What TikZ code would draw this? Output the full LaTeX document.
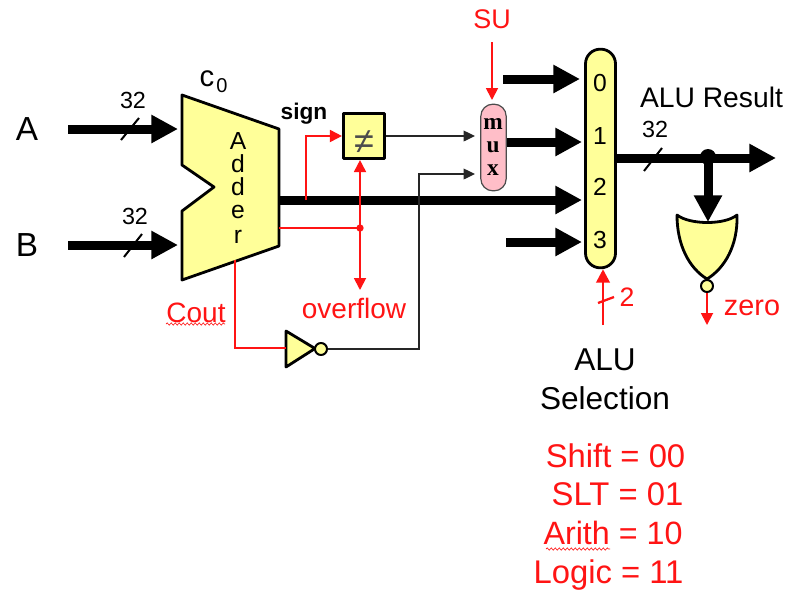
\documentclass[tikz,border=0pt]{standalone}
\usepackage{fontspec}
\setmainfont{Liberation Sans}
\newfontfamily\muxfont[Scale=1]{Liberation Serif}
\usetikzlibrary{arrows.meta,decorations.pathmorphing}
\newcommand{\fsz}[1]{\fontsize{#1}{#1}\selectfont}
\definecolor{gateyellow}{RGB}{255,255,153}
\definecolor{muxpink}{RGB}{255,190,200}
\definecolor{sigred}{RGB}{255,20,20}
\tikzset{
  bus/.style={line width=6.75pt,-{Triangle[length=20pt,width=20pt]}},
  tick/.style={line width=1.5pt},
  wire/.style={line width=1pt,black!85,-{Triangle[length=8.5pt,width=8pt]}},
  redwire/.style={line width=1.35pt,sigred},
  redarrow/.style={redwire,-{Triangle[length=9pt,width=9pt]}},
  redboth/.style={redwire,{Triangle[length=9pt,width=9pt]}-{Triangle[length=9pt,width=9pt]}},
  gate/.style={draw=black,line width=2.1pt,fill=gateyellow,line join=round},
  lab/.style={inner sep=0pt,text=black},
  redlab/.style={inner sep=0pt,text=sigred},
  squiggle/.style={sigred,line width=.5pt,decorate,decoration={snake,amplitude=.8pt,segment length=3pt}},
}
\begin{document}
\begin{tikzpicture}[x=.75pt,y=-.75pt]
\useasboundingbox[fill=white] (0,0) rectangle (788,590);
% free ends
\coordinate (Ain) at (68,129);
\coordinate (Ato) at (178,129);
\coordinate (Bin) at (68,245);
\coordinate (Bto) at (178,245);
\coordinate (sum) at (279,200);
\coordinate (ovf) at (279,228);
\coordinate (sgn) at (306,200);
\coordinate (cout) at (235,260);
\coordinate (in0) at (503,79);
\coordinate (in3) at (506,242);
\coordinate (suin) at (492,42);
\coordinate (ovfout) at (360,290);
\coordinate (selin) at (603,325);
\coordinate (resout) at (776,158);
\coordinate (zerout) at (707,325);
\coordinate (norin) at (708,222);
\coordinate (invin) at (286,348);
% blocks
\draw[gate] (182,95) -- (279,129) -- (279,246) -- (182,280) -- (182,211) -- (214,187) -- (182,165) -- cycle;
\node[lab,align=center,font=\fsz{18.5},text width=20pt] (adder) at (238,188) {\centering\baselineskip=17.4pt A\\d\\d\\e\\r};
\node[gate,inner sep=0pt,minimum width=31pt,minimum height=34pt,text height=0pt,text depth=0pt] (ne) at (364,136) {};
\node[lab,text=black!70,font=\fsz{27}] (netxt) at (364,142) {≠};
\node[draw=black!70,line width=.9pt,fill=muxpink,rounded corners=9pt,minimum width=19pt,minimum height=65pt,inner sep=0pt] (mux) at (493.5,147.5) {};
\node[lab,font=\muxfont\bfseries\fsz{17.5},align=center] (muxtxt) at (493,147) {\baselineskip=18.4pt m\\u\\x};
\node[gate,rounded corners=11pt,minimum width=22.5pt,minimum height=164pt,inner sep=0pt] (alu) at (600.5,158.5) {};
\node[lab,font=\fsz{18.5}] (d0) at (600,83) {0};
\node[lab,font=\fsz{18.5}] (d1) at (600,136) {1};
\node[lab,font=\fsz{18.5}] (d2) at (600,187) {2};
\node[lab,font=\fsz{18.5}] (d3) at (600,240) {3};
% inverter
\draw[gate] (286,331) -- (315,348.5) -- (286,367) -- cycle;
\node[circle,gate,line width=1.5pt,minimum size=9pt,inner sep=0pt] (invb) at (321,349) {};
% buses
\draw[bus] (Ain) -- (Ato);
\draw[bus] (Bin) -- (Bto);
\draw[bus] (sum) -- (582,200);
\draw[bus] (in0) -- (580,79);
\draw[bus] (mux.east |- 0,142) -- (582,142);
\draw[bus] (in3) -- (582,242);
\draw[bus] (alu.east |- resout) -- (resout);
\node[circle,fill=black,minimum size=12pt,inner sep=0pt] (tap) at (708,157) {};
% bus ticks
\draw[tick] (121,140) -- (139,118);
\draw[tick] (124,257) -- (142,234);
\draw[tick] (644,171) -- (662,148);
% black wires
\draw[wire] (ne.east) -- (475,136);
\draw[wire] (invb.east) -- (419,349) -- (419,174) -- (475,174);
% red wires
\draw[redarrow] (sgn) -- (306,136) -- (ne.west);
\node[circle,fill=sigred,minimum size=5.5pt,inner sep=0pt] (jn) at (360,228) {};
\draw[redwire] (ovf) -- (jn.center);
\draw[redboth] (ne.south -| jn) -- (ovfout);
\draw[redwire] (cout) -- (235,348) -- (invin);
\draw[redarrow] (suin) -- (492,100);
\draw[redwire,line width=2pt,-{Triangle[length=10pt,width=10pt]}] (selin) -- (alu.south -| selin);
\draw[redwire,line width=1.7pt] (598,303) -- (614,297);
% NOR gate
\draw[gate] (677,215) .. controls (690,225) and (725,225) .. (737,215) .. controls (738,245) and (725,268) .. (707,279) .. controls (689,268) and (677,245) .. (677,215) -- cycle;
\draw[bus] (tap.center) -- (norin);
\node[circle,gate,line width=1.5pt,minimum size=9pt,inner sep=0pt] (norb) at (707,286) {};
\draw[redarrow] (norb.south) -- (zerout);
% labels
\node[lab,font=\fsz{25}] (lA) at (27,129) {A};
\node[lab,font=\fsz{25}] (lB) at (27,245) {B};
\node[lab,font=\fsz{17.5}] (n32a) at (133,100) {32};
\node[lab,font=\fsz{17.5}] (n32b) at (135,216) {32};
\node[lab,font=\fsz{17.5}] (n32c) at (655,129) {32};
\node[lab] (c0) at (207,79) {\fsz{22}c};
\node[lab] (c0s) at (222,86) {\fsz{15}0};
\node[lab,font=\bfseries\fsz{17}] (sign) at (304,114) {sign};
\node[redlab,font=\fsz{20.2}] (su) at (492,19) {SU};
\node[redlab,font=\fsz{21}] (over) at (354,308) {overflow};
\node[redlab,font=\fsz{21}] (coutl) at (196,313) {Cout};
\node[redlab,font=\fsz{21.6}] (zero) at (752,308) {zero};
\node[redlab,font=\fsz{20}] (two) at (627,297) {2};
\node[lab,font=\fsz{21.2}] (res) at (711.5,97) {ALU Result};
\node[lab,font=\fsz{23.7}] (sel1) at (605,360) {ALU};
\node[lab,font=\fsz{23.7}] (sel2) at (605,398) {Selection};
\node[redlab,font=\fsz{24.6}] (t1) at (615.5,456) {Shift = 00};
\node[redlab,font=\fsz{24.6}] (t2) at (617.5,494) {SLT = 01};
\node[redlab,font=\fsz{24.2}] (t3) at (613,533) {Arith = 10};
\node[redlab,font=\fsz{24.6}] (t4) at (608.5,575) {Logic = 11};
\draw[squiggle] (166,324) -- (225,324);
\draw[squiggle] (546,549) -- (610,549);
\end{tikzpicture}
\end{document}
